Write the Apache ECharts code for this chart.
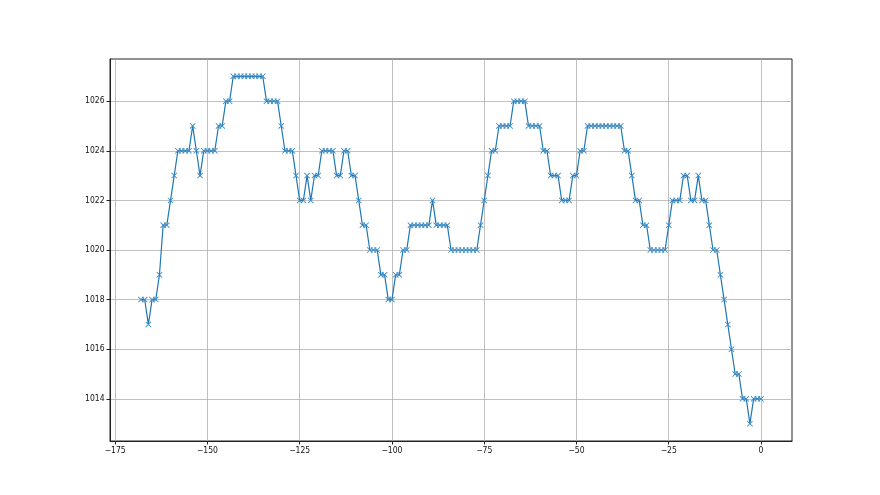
<!DOCTYPE html>
<html>
<head>
<meta charset="utf-8">
<script src="https://cdn.jsdelivr.net/npm/echarts@6/dist/echarts.min.js"></script>
<style>html,body{margin:0;padding:0;background:#fff;}#c{width:880px;height:495px;}</style>
</head>
<body>
<div id="c"></div>
<script>
const hours = [-168,-167,-166,-165,-164,-163,-162,-161,-160,-159,-158,-157,-156,-155,-154,-153,-152,-151,-150,-149,
-148,-147,-146,-145,-144,-143,-142,-141,-140,-139,-138,-137,-136,-135,-134,-133,-132,-131,-130,-129,
-128,-127,-126,-125,-124,-123,-122,-121,-120,-119,-118,-117,-116,-115,-114,-113,-112,-111,-110,-109,
-108,-107,-106,-105,-104,-103,-102,-101,-100,-99,-98,-97,-96,-95,-94,-93,-92,-91,-90,-89,
-88,-87,-86,-85,-84,-83,-82,-81,-80,-79,-78,-77,-76,-75,-74,-73,-72,-71,-70,-69,
-68,-67,-66,-65,-64,-63,-62,-61,-60,-59,-58,-57,-56,-55,-54,-53,-52,-51,-50,-49,
-48,-47,-46,-45,-44,-43,-42,-41,-40,-39,-38,-37,-36,-35,-34,-33,-32,-31,-30,-29,
-28,-27,-26,-25,-24,-23,-22,-21,-20,-19,-18,-17,-16,-15,-14,-13,-12,-11,-10,-9,
-8,-7,-6,-5,-4,-3,-2,-1,0];
const pressure = [1018,1018,1017,1018,1018,1019,1021,1021,1022,1023,1024,1024,1024,1024,1025,1024,1023,1024,1024,1024,
1024,1025,1025,1026,1026,1027,1027,1027,1027,1027,1027,1027,1027,1027,1026,1026,1026,1026,1025,1024,
1024,1024,1023,1022,1022,1023,1022,1023,1023,1024,1024,1024,1024,1023,1023,1024,1024,1023,1023,1022,
1021,1021,1020,1020,1020,1019,1019,1018,1018,1019,1019,1020,1020,1021,1021,1021,1021,1021,1021,1022,
1021,1021,1021,1021,1020,1020,1020,1020,1020,1020,1020,1020,1021,1022,1023,1024,1024,1025,1025,1025,
1025,1026,1026,1026,1026,1025,1025,1025,1025,1024,1024,1023,1023,1023,1022,1022,1022,1023,1023,1024,
1024,1025,1025,1025,1025,1025,1025,1025,1025,1025,1025,1024,1024,1023,1022,1022,1021,1021,1020,1020,
1020,1020,1020,1021,1022,1022,1022,1023,1023,1022,1022,1023,1022,1022,1021,1020,1020,1019,1018,1017,
1016,1015,1015,1014,1014,1013,1014,1014,1014];
const xTicks = [-175,-150,-125,-100,-75,-50,-25,0];
const yTicks = [1014,1016,1018,1020,1022,1024,1026];

const points = hours.map((h, i) => [h, pressure[i]]);
const fmt = v => String(v).replace('-', '\u2212');
const xMarker = 'path://M0,1L1,0L5,4L9,0L10,1L6,5L10,9L9,10L5,6L1,10L0,9L4,5Z';
const labelFont = "'DejaVu Sans Condensed', 'Liberation Sans', sans-serif";

const chart = echarts.init(document.getElementById('c'), null, {renderer: 'canvas'});
chart.setOption({
  animation: false,
  backgroundColor: '#fff',
  grid: {left: 110, right: 88, top: 59, bottom: 54, show: true, borderColor: '#222', borderWidth: 1, backgroundColor: 'transparent'},
  xAxis: {
    type: 'value', min: -176.4, max: 8.4,
    axisLine: {show: true, onZero: false, lineStyle: {color: '#222', width: 1}},
    axisTick: {show: true, inside: false, length: 3.5, lineStyle: {color: '#222'}, customValues: xTicks},
    axisLabel: {color: '#111', fontSize: 8.5, fontFamily: labelFont, margin: 5, formatter: fmt, customValues: xTicks},
    splitLine: {show: true, lineStyle: {color: '#b0b0b0', width: 0.8}}
  },
  yAxis: {
    type: 'value', min: 1012.3, max: 1027.7,
    axisLine: {show: true, onZero: false, lineStyle: {color: '#222', width: 1}},
    axisTick: {show: true, inside: false, length: 3.5, lineStyle: {color: '#222'}, customValues: yTicks},
    axisLabel: {color: '#111', fontSize: 8.5, fontFamily: labelFont, margin: 5.5, formatter: v => String(v), customValues: yTicks},
    splitLine: {show: true, lineStyle: {color: '#b0b0b0', width: 0.8}}
  },
  series: [{
    type: 'line',
    data: points,
    symbol: xMarker,
    symbolSize: 6,
    showAllSymbol: true,
    lineStyle: {color: '#1f77b4', width: 1.2},
    itemStyle: {color: '#3a8ac4', borderWidth: 0},
    emphasis: {disabled: true}
  }]
});
</script>
</body>
</html>
